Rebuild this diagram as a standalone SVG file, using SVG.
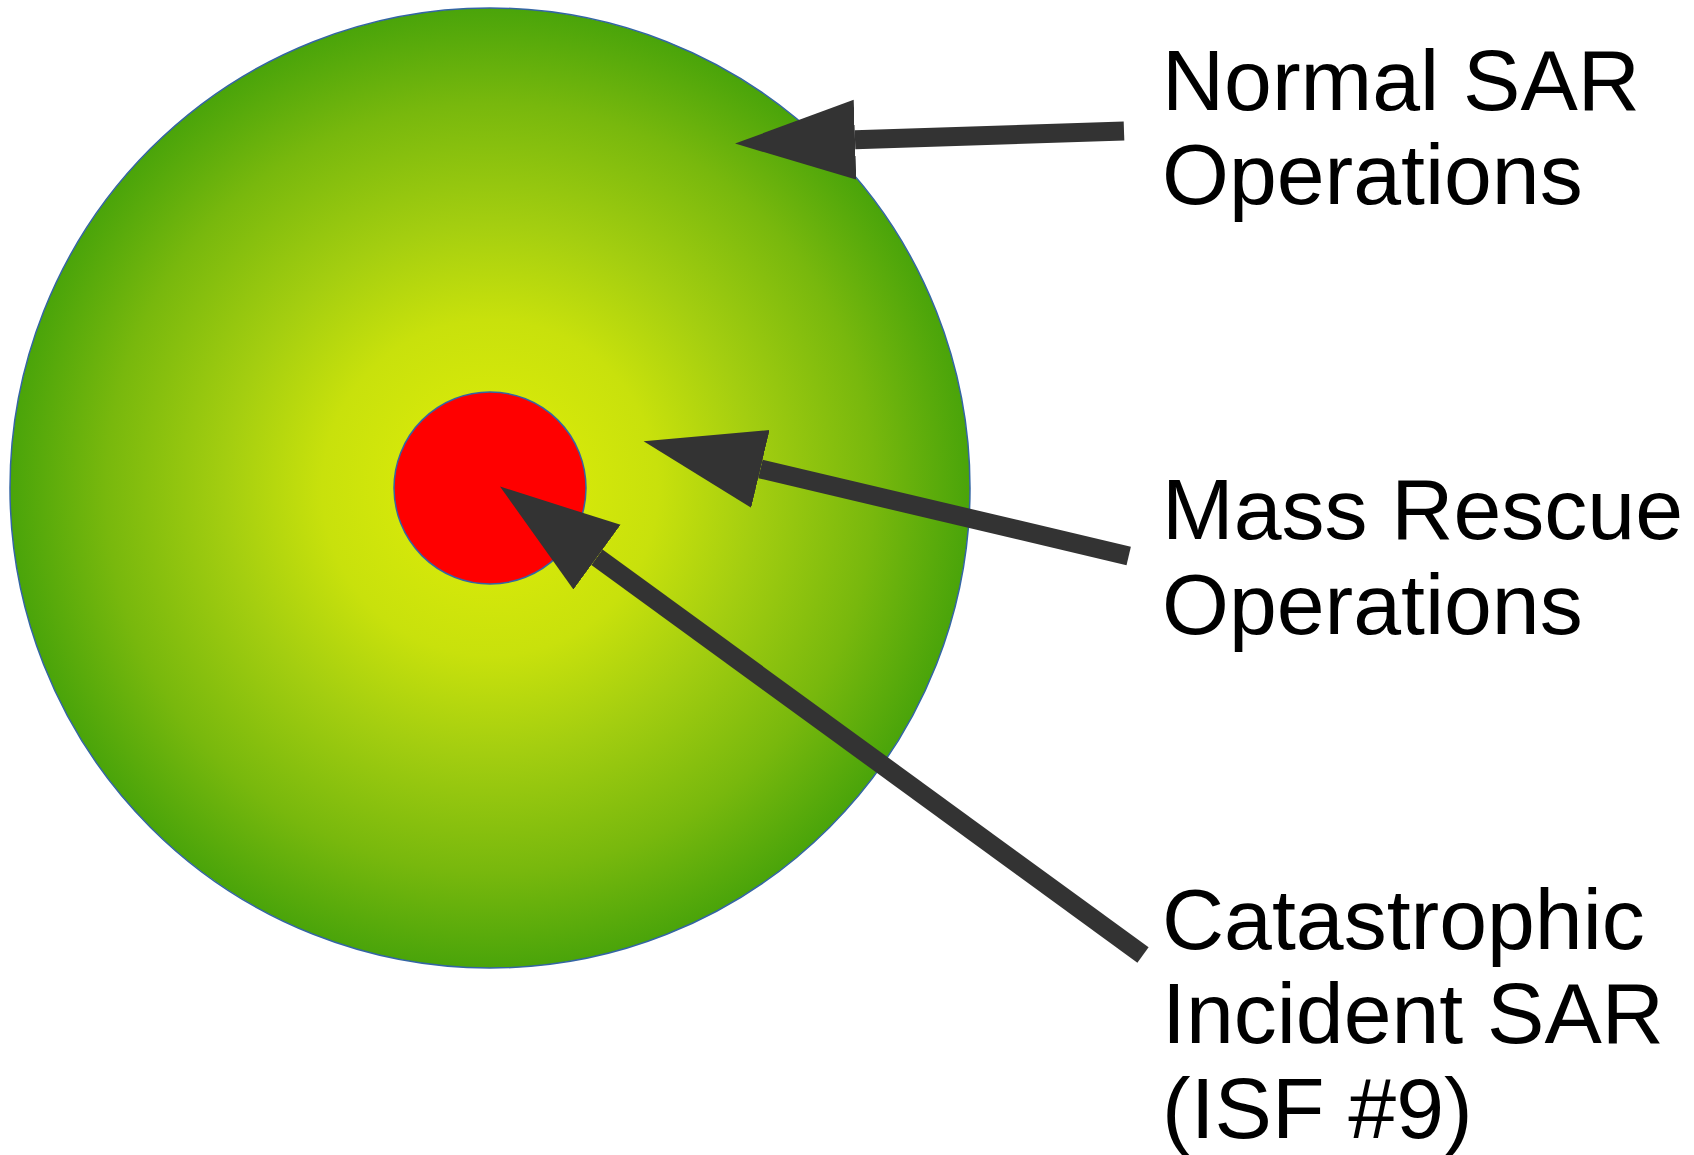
<svg xmlns="http://www.w3.org/2000/svg" width="1694" height="1155" viewBox="0 0 1694 1155">
<style>
.lbl{font-family:"Liberation Sans",Arial,sans-serif;font-size:86px;fill:#000}
.shaft{stroke:#333333;stroke-width:19;fill:none}
.ring{stroke:#3465a4;stroke-width:1.5}
</style>
<defs>
<radialGradient id="g" cx="490" cy="488" r="480" gradientUnits="userSpaceOnUse">
<stop offset="0" stop-color="#e2ef08"/>
<stop offset="0.35" stop-color="#c8e10c"/>
<stop offset="0.55" stop-color="#a4ce10"/>
<stop offset="0.8" stop-color="#78b80d"/>
<stop offset="1" stop-color="#4aa40a"/>
</radialGradient>
<marker id="ah" markerUnits="userSpaceOnUse" markerWidth="130" markerHeight="90" viewBox="0 -45 130 90" refX="0" refY="0" orient="auto">
<path d="M0,-40 L120,0 L0,40 Z" fill="#333333"/>
</marker>
</defs>
<g id="normal-sar">
<circle cx="490" cy="488" r="480" fill="url(#g)" class="ring"/>
</g>
<g id="mass-rescue">
<circle cx="490" cy="488" r="96" fill="#ff0000" class="ring"/>
</g>
<g id="connectors">
<line class="shaft" x1="1124" y1="131" x2="855" y2="139.7" marker-end="url(#ah)"/>
<line class="shaft" x1="1128.7" y1="556" x2="760.4" y2="468.9" marker-end="url(#ah)"/>
<line class="shaft" x1="1143" y1="955" x2="597" y2="557.2" marker-end="url(#ah)" stroke-width="20"/>
</g>
<g id="label-normal">
<text class="lbl" x="1162" y="110">Normal SAR</text>
<text class="lbl" x="1162" y="204">Operations</text>
</g>
<g id="label-mass">
<text class="lbl" x="1162" y="539">Mass Rescue</text>
<text class="lbl" x="1162" y="634">Operations</text>
</g>
<g id="label-catastrophic">
<text class="lbl" x="1162" y="949">Catastrophic</text>
<text class="lbl" x="1162" y="1043">Incident SAR</text>
<text class="lbl" x="1162" y="1138">(ISF #9)</text>
</g>
</svg>
